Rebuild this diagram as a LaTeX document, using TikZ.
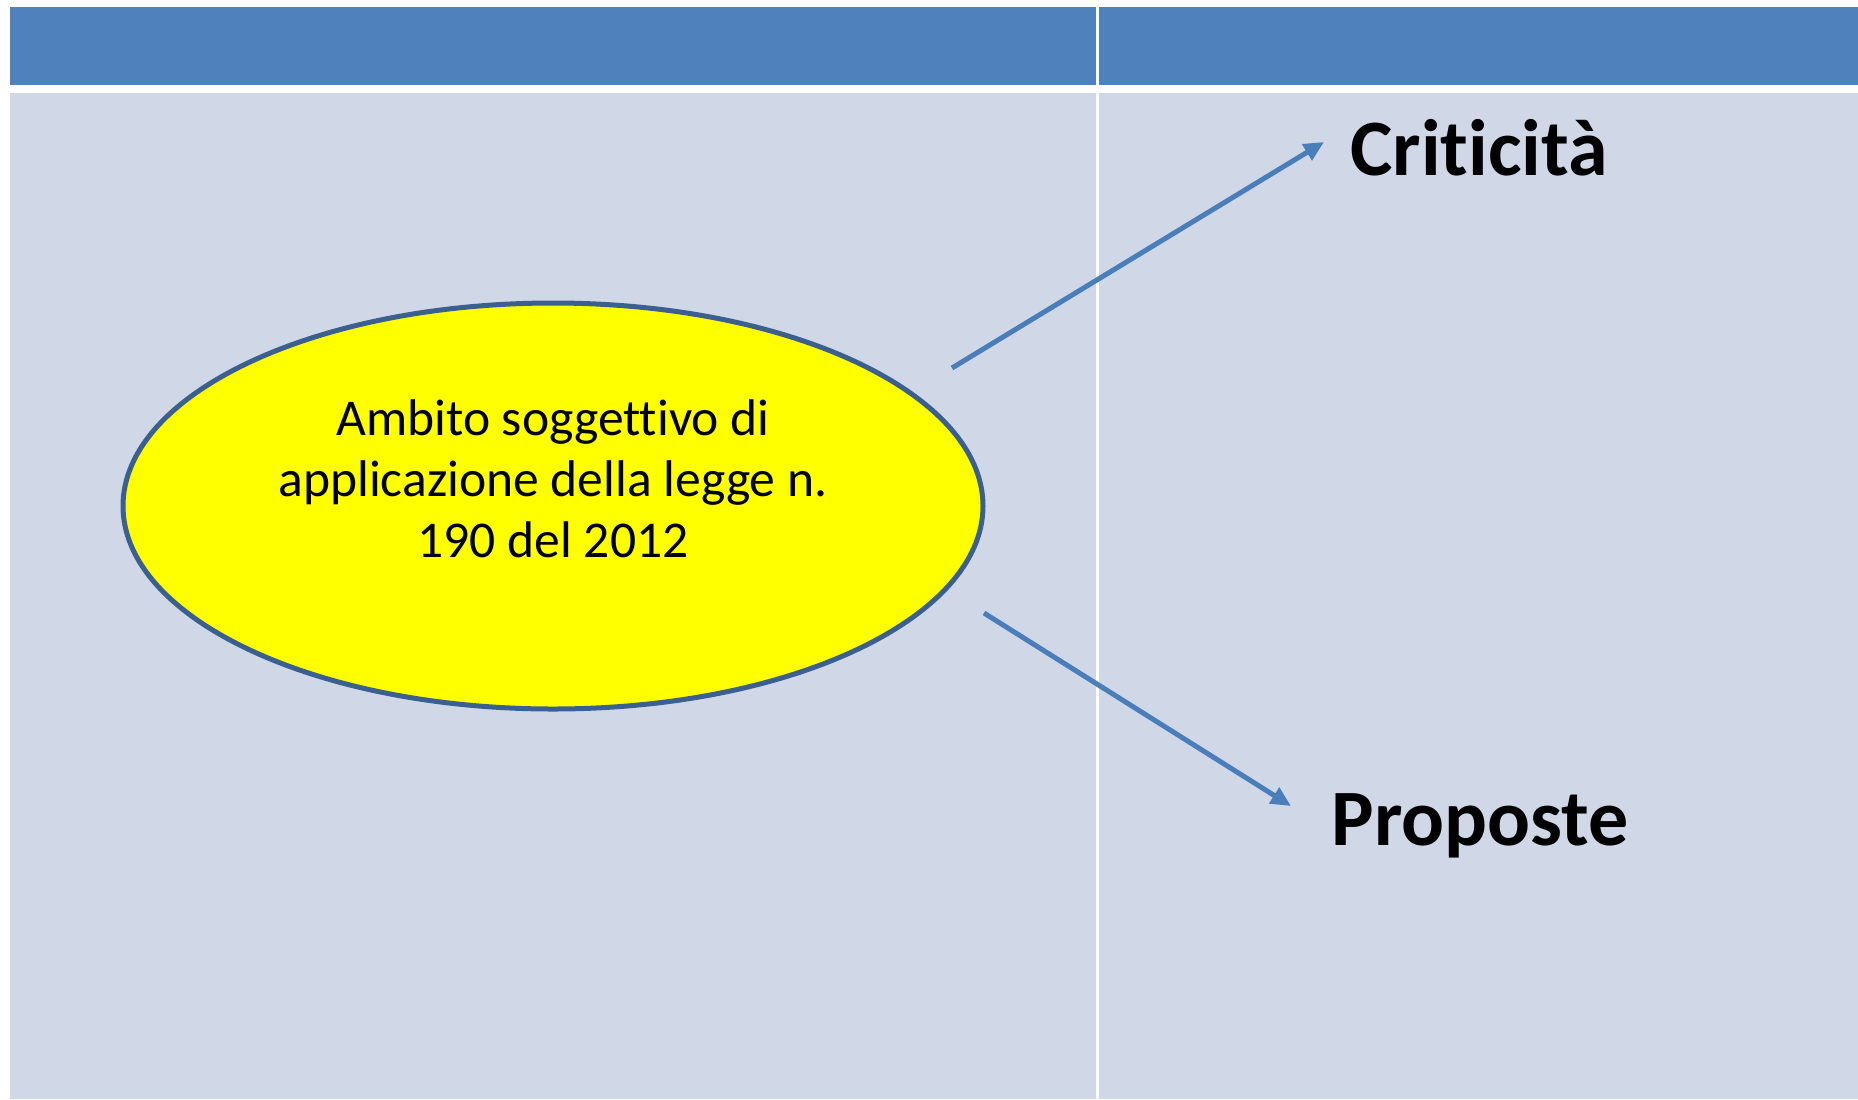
\documentclass[tikz,border=0pt]{standalone}
\usepackage{fontspec}
\setmainfont{Carlito}[Ligatures={NoCommon,NoContextual}]
\usetikzlibrary{shapes.geometric,arrows.meta}
\definecolor{headblue}{HTML}{4F81BD}
\definecolor{bodyblue}{HTML}{D0D8E8}
\definecolor{ellline}{HTML}{3B5F8E}
\definecolor{arrowblue}{HTML}{4A7EBB}
\definecolor{ellfill}{HTML}{FFFF00}
\begin{document}
\begin{tikzpicture}[x=0.5pt,y=-0.5pt,
  headcell/.style={fill=headblue},
  bodycell/.style={fill=bodyblue},
  topic/.style={ellipse,draw=ellline,line width=2.5pt,fill=ellfill,minimum width=430pt,minimum height=203pt,inner sep=0pt},
  topictext/.style={align=center,font=\fontsize{25.8}{30.5}\selectfont,inner sep=0pt},
  outcome/.style={font=\fontsize{40}{48}\selectfont\bfseries,anchor=base,inner sep=0pt},
  link/.style={draw=arrowblue,line width=2.5pt,-{Triangle[length=10pt,width=9pt]}}]
\useasboundingbox (0,0) rectangle (1858,1099);
\fill[white] (0,0) rectangle (1858,1099);
% table
\path[headcell] (10,7) rectangle (1858,85);
\path[bodycell] (10,93) rectangle (1858,1099);
\fill[white] (1095.7,7) rectangle (1098.7,1099);
% ellipse
\node[topic] (amb) at (553,506) {};
\node[topictext] (ambt) at (553,479) {Ambito soggettivo di\\applicazione della legge n.\\190 del 2012};
% outcomes
\node[outcome] (crit) at (1479,175) {Cri\kern0ptti\kern0ptcità};
\node[outcome] (prop) at (1480,845) {Proposte};
% connectors
\coordinate (s1) at (952,368);
\coordinate (e1) at (1324,142);
\coordinate (s2) at (984,613);
\coordinate (e2) at (1291,806);
\draw[link] (s1) -- (e1);
\draw[link] (s2) -- (e2);
\end{tikzpicture}
\end{document}
